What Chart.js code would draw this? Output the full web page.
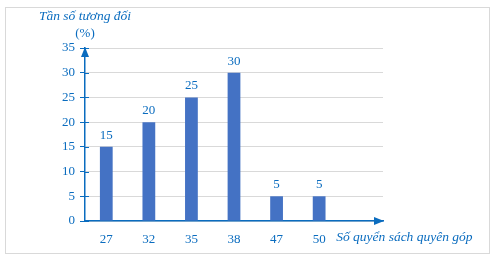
<!DOCTYPE html>
<html>
<head>
<meta charset="utf-8">
<script src="https://cdn.jsdelivr.net/npm/chart.js@4"></script>
<style>
  html, body { margin: 0; padding: 0; background: #fff; }
  #wrap { position: relative; width: 498px; height: 264px; }
  #frame { position: absolute; left: 5px; top: 7px; width: 485px; height: 247px; border: 1px solid #d9d9d9; box-sizing: border-box; }
  canvas { position: absolute; left: 0; top: 0; }
</style>
</head>
<body>
<div id="wrap">
  <div id="frame"></div>
  <canvas id="graph-bar" width="498" height="264"></canvas>
</div>
<script>
const xValues = ["27", "32", "35", "38", "47", "50", ""];
const yValues = [15, 20, 25, 30, 5, 5, null];
const yTitle = ["Tần số tương đối", "(%)"];
const xTitle = "Số quyển sách quyên góp";

const blue = "#0a6cbf";
const barColor = "#4472c4";
const serif = "'Liberation Serif', 'DejaVu Serif', serif";

// labels, arrows, axis titles
const extras = {
    id: "extras",
    afterDatasetsDraw(chart) {
        const ctx = chart.ctx;
        const x = chart.scales.x, y = chart.scales.y;
        const area = chart.chartArea;
        ctx.save();
        // value labels above bars
        ctx.fillStyle = blue;
        ctx.font = "13px " + serif;
        ctx.textAlign = "center";
        ctx.textBaseline = "bottom";
        chart.getDatasetMeta(0).data.forEach((bar, i) => {
            if (yValues[i] == null) return;
            ctx.fillText(String(yValues[i]), bar.x, bar.y - 5);
        });
        // arrows
        ctx.fillStyle = blue;
        ctx.beginPath();
        ctx.moveTo(area.left, area.top - 1);
        ctx.lineTo(area.left - 4, area.top + 9);
        ctx.lineTo(area.left + 4, area.top + 9);
        ctx.closePath();
        ctx.fill();
        ctx.beginPath();
        ctx.moveTo(area.right + 1, area.bottom);
        ctx.lineTo(area.right - 9, area.bottom - 4);
        ctx.lineTo(area.right - 9, area.bottom + 4);
        ctx.closePath();
        ctx.fill();
        // small tick marks inside the y axis
        ctx.strokeStyle = blue;
        ctx.lineWidth = 1;
        y.ticks.forEach(t => {
            const py = Math.round(y.getPixelForValue(t.value)) + 0.5;
            ctx.beginPath();
            ctx.moveTo(area.left, py);
            ctx.lineTo(area.left + 4, py);
            ctx.stroke();
        });
        // titles
        ctx.font = "italic 13.5px " + serif;
        ctx.textBaseline = "middle";
        ctx.textAlign = "center";
        ctx.fillText(yTitle[0], area.left, 16);
        ctx.font = "13px " + serif;
        ctx.fillText(yTitle[1], area.left, 34);
        ctx.font = "italic 13.5px " + serif;
        ctx.textAlign = "left";
        ctx.fillText(xTitle, x.getPixelForValue(5) + 17, 237);
        ctx.restore();
    }
};

new Chart(document.getElementById("graph-bar").getContext("2d"), {
    type: "bar",
    data: {
        labels: xValues,
        datasets: [{
            data: yValues,
            backgroundColor: barColor,
            barPercentage: 0.3,
            categoryPercentage: 1.0
        }]
    },
    options: {
        responsive: false,
        animation: false,
        layout: { padding: { left: 0, top: 48, right: 115, bottom: 0 } },
        plugins: {
            legend: { display: false },
            tooltip: { enabled: false }
        },
        scales: {
            x: {
                grid: { display: false },
                border: { color: blue, width: 1.5 },
                ticks: { color: blue, padding: 3, font: { family: serif, size: 13 } },
                afterFit(scale) { scale.height = 43; }
            },
            y: {
                min: 0,
                max: 35,
                ticks: { stepSize: 5, color: blue, padding: 5, font: { family: serif, size: 13 } },
                grid: { color: "#d9d9d9", tickColor: blue, tickLength: 5 },
                border: { color: blue, width: 1.5 },
                afterFit(scale) { scale.width = 85; }
            }
        }
    },
    plugins: [extras]
});
</script>
</body>
</html>
